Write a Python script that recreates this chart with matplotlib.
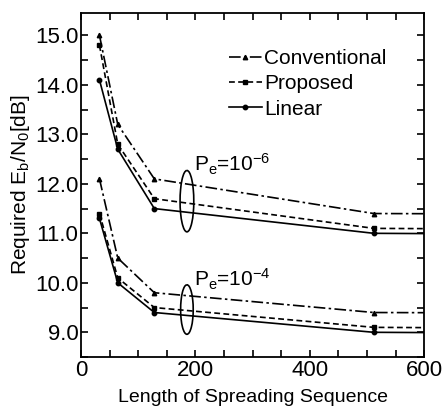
import matplotlib
matplotlib.use("Agg")
import matplotlib.pyplot as plt
from matplotlib.patches import Arc
from matplotlib.ticker import MultipleLocator, FormatStrFormatter

plt.rcParams['font.family'] = ['Liberation Sans', 'DejaVu Sans']
plt.rcParams['mathtext.fontset'] = 'custom'
plt.rcParams['mathtext.rm'] = 'Liberation Sans'
plt.rcParams['mathtext.it'] = 'Liberation Sans'

lengths = [32, 64, 128, 512, 1024]

conv_e6 = [15.0, 13.2, 12.1, 11.4, 11.38]
prop_e6 = [14.8, 12.8, 11.7, 11.1, 11.07]
lin_e6 = [14.1, 12.7, 11.5, 11.0, 10.97]

conv_e4 = [12.1, 10.5, 9.8, 9.4, 9.38]
prop_e4 = [11.4, 10.1, 9.5, 9.1, 9.07]
lin_e4 = [11.3, 10.0, 9.4, 9.0, 8.97]

series_labels = ["Conventional", "Proposed", "Linear"]
pe_labels = [r"P$_\mathrm{e}$=10$^{-6}$", r"P$_\mathrm{e}$=10$^{-4}$"]

fig = plt.figure(figsize=(4.46, 4.09), dpi=100)
ax = fig.add_axes([0.182, 0.127, 0.769, 0.841])

styles = [
    dict(linestyle=(0, (7, 2, 1.5, 2)), marker='^', markersize=3.2),
    dict(linestyle=(0, (3.5, 2)), marker='s', markersize=3.2),
    dict(linestyle='-', marker='o', markersize=3.2),
]

for data, lab, st in zip([conv_e6, prop_e6, lin_e6], series_labels, styles):
    ax.plot(lengths, data, color='black', lw=1.2, label=lab, **st)
for data, st in zip([conv_e4, prop_e4, lin_e4], styles):
    ax.plot(lengths, data, color='black', lw=1.2, **st)

ax.set_xlim(0, 600)
ax.set_ylim(8.5, 15.45)
ax.xaxis.set_major_locator(MultipleLocator(200))
ax.xaxis.set_minor_locator(MultipleLocator(50))
ax.yaxis.set_major_locator(MultipleLocator(1.0))
ax.yaxis.set_minor_locator(MultipleLocator(0.5))
ax.yaxis.set_major_formatter(FormatStrFormatter('%.1f'))
ax.tick_params(which='both', direction='in', top=True, right=True, width=1.2)
ax.tick_params(which='major', length=5, labelsize=16, pad=2)
ax.tick_params(which='minor', length=5)
for s in ax.spines.values():
    s.set_linewidth(1.3)

ax.set_ylabel(r"Required E$_\mathrm{b}$/N$_0$[dB]", fontsize=15, labelpad=2)
ax.set_xlabel("Length of Spreading Sequence", fontsize=14, labelpad=6)

leg = ax.legend(loc='upper left', bbox_to_anchor=(0.43, 0.895), frameon=False,
                fontsize=15, handlelength=1.6, handletextpad=0.1,
                labelspacing=0.3, borderaxespad=0, borderpad=0)

# Pe annotations
ax.add_patch(Arc((185, 11.65), 24, 1.24, theta1=100, theta2=450, color='black', lw=1.2))
ax.add_patch(Arc((185, 9.46), 22, 1.0, theta1=100, theta2=450, color='black', lw=1.2))
ax.text(197, 12.13, pe_labels[0], fontsize=15, ha='left', va='bottom')
ax.text(197, 9.82, pe_labels[1], fontsize=15, ha='left', va='bottom')

fig.savefig("out.png", dpi=100)
